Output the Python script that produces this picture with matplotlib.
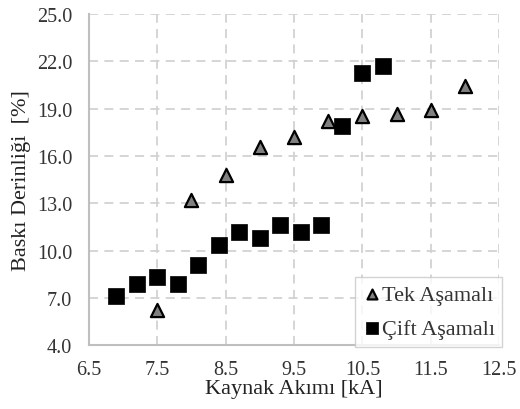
import matplotlib
matplotlib.use('Agg')
import matplotlib.pyplot as plt

# Tek Aşamalı (triangles)
tek_x = [7.5, 8.0, 8.5, 9.0, 9.5, 10.0, 10.5, 11.0, 11.5, 12.0]
tek_y = [6.25, 13.2, 14.8, 16.6, 17.2, 18.2, 18.55, 18.65, 18.9, 20.45]

# Çift Aşamalı (squares)
cift_x = [6.9, 7.2, 7.5, 7.8, 8.1, 8.4, 8.7, 9.0, 9.3, 9.6, 9.9, 10.2, 10.5, 10.8]
cift_y = [7.1, 7.9, 8.3, 7.9, 9.1, 10.35, 11.2, 10.8, 11.6, 11.2, 11.6, 17.9, 21.25, 21.7]

xticks = [6.5, 7.5, 8.5, 9.5, 10.5, 11.5, 12.5]
yticks = [4.0, 7.0, 10.0, 13.0, 16.0, 19.0, 22.0, 25.0]

plt.rcParams['font.family'] = ['Liberation Serif', 'DejaVu Serif']

fig = plt.figure(figsize=(5.2, 4.1), dpi=100)
ax = fig.add_axes([0.171, 0.156, 0.789, 0.807])

ax.scatter(tek_x, tek_y, marker='^', s=90, facecolor='#808080', edgecolor='black',
           linewidth=1.6, zorder=3, label='Tek Aşamalı')
ax.scatter(cift_x, cift_y, marker='s', s=125, facecolor='black', edgecolor='black',
           linewidth=0.5, zorder=3, label='Çift Aşamalı')

ax.set_xlim(6.5, 12.5)
ax.set_ylim(4.0, 25.0)
ax.set_xticks(xticks)
ax.set_yticks(yticks)
ax.set_xticklabels([f'{v:.1f}' for v in xticks])
ax.set_yticklabels([f'{v:.1f}' for v in yticks])
ax.tick_params(labelsize=14.5, length=0, colors='#333333')
ax.tick_params(axis='y', pad=12)
ax.tick_params(axis='x', pad=11)

ax.grid(True, color='#d2d2d2', linestyle=(0, (5, 3.5)), linewidth=1.3)
ax.set_axisbelow(True)
for s in ['top', 'right']:
    ax.spines[s].set_visible(False)
for s in ['left', 'bottom']:
    ax.spines[s].set_color('#bfbfbf')
    ax.spines[s].set_linewidth(1.5)

ax.set_xlabel('Kaynak Akımı [kA]', fontsize=16, color='#222222', labelpad=0)
ax.set_ylabel('Baskı Derinliği  [%]', fontsize=16, color='#222222', labelpad=4)

leg = ax.legend(loc='lower right', bbox_to_anchor=(1.008, -0.005), fontsize=16,
                frameon=True, fancybox=False, markerscale=0.75,
                handletextpad=0.05, handlelength=0.8, borderpad=0.35,
                borderaxespad=0.0, labelspacing=0.6)
leg.get_frame().set_edgecolor('#c8c8c8')
leg.get_frame().set_linewidth(1.0)
for t in leg.get_texts():
    t.set_color('#333333')

fig.savefig('out.png', dpi=100, facecolor='white')
